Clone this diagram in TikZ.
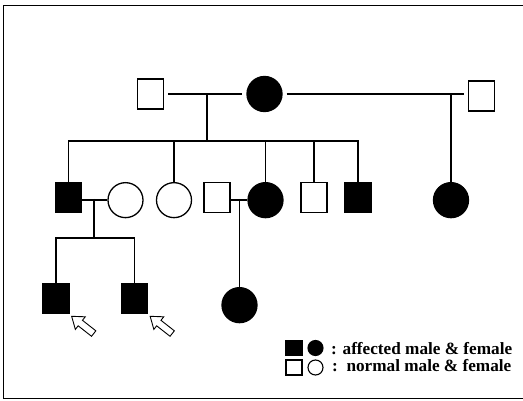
\documentclass[tikz,border=0pt]{standalone}
\usepackage{fontspec}
\setmainfont{Liberation Serif}
\usepackage{tikz}
\usetikzlibrary{calc,positioning}
\tikzset{
  msq/.style={draw,line width=1.3pt,minimum width=26pt,minimum height=30pt,inner sep=0pt},
  fci/.style={circle,draw,line width=1.3pt,minimum size=35pt,inner sep=0pt},
  aff/.style={fill=black},
  ln/.style={line width=1.3pt},
  lsq/.style={draw,line width=1.1pt,minimum width=16pt,minimum height=14pt,inner sep=0pt},
  lci/.style={circle,draw,line width=1.1pt,minimum size=15pt,inner sep=0pt},
  txt/.style={inner sep=0pt,font=\bfseries\fontsize{17.2}{19}\selectfont},
  ptr/.pic={\draw[line width=0.9pt,fill=white] (0,0)--(13.6,0.5)--(10.8,4)--(24.2,14.5)--(19.9,20)--(6.5,9.5)--(3.7,13.1)--cycle;}
}
\begin{document}
\begin{tikzpicture}[x=1pt,y=-1pt]
\useasboundingbox (0,0) rectangle (523,401);
\draw[line width=0.9pt] (530,5.5) -- (3.5,5.5) -- (3.5,398) -- (530,398);
% generation I
\node[msq] (i1) at (150.5,94) {};
\node[fci,aff] (i2) at (264.5,94) {};
\node[msq] (i3) at (481.5,96) {};
% generation II
\node[msq,aff,anchor=north] (ii1) at (68.5,182) {};
\node[fci,anchor=north] (ii2) at (125.5,182) {};
\node[fci,anchor=north] (ii3) at (174,182) {};
\node[msq,anchor=north] (ii4) at (217,182) {};
\node[fci,aff,anchor=north] (ii5) at (265.5,182) {};
\node[msq,anchor=north] (ii6) at (314,182) {};
\node[msq,aff,anchor=north] (ii7) at (358,182) {};
\node[fci,aff,anchor=north] (ii8) at (451,182) {};
% generation III
\node[msq,aff,anchor=north] (iii1) at (56,283) {};
\node[msq,aff,anchor=north] (iii2) at (134.5,283) {};
\node[fci,aff,anchor=north] (iii3) at (239.5,287) {};
% marriages and descent
\coordinate (m1) at (207,94);
\coordinate (s1) at (207,141);
\coordinate (m2) at (451,94);
\coordinate (m3) at (94,199);
\coordinate (s3) at (94,238);
\coordinate (m4) at (239.5,199);
\draw[ln,shorten <=4pt,shorten >=4pt] (i1) -- (i2);
\draw[ln,shorten <=4pt,shorten >=4pt] (i2) -- (i2 -| i3.west);
\draw[ln] (m1) -- (s1);
\draw[ln] (ii1.north) |- (s1) -| (ii7.north);
\foreach \n in {ii3,ii5,ii6}{\draw[ln] (\n.north) -- (\n.north |- s1);}
\draw[ln] (m2) -- (ii8.north);
\draw[ln] (ii2.west -| ii1.east) -- (ii2.west);
\draw[ln] (m3) -- (s3);
\draw[ln] (iii1.north) |- (s3) -| (iii2.north);
\draw[ln] (ii5.west -| ii4.east) -- (ii5.west);
\draw[ln] (m4) -- (iii3.north);
% probands
\pic at ([shift={(2,2)}]iii1.south east) {ptr};
\pic at ([shift={(2,2)}]iii2.south east) {ptr};
% legend
\node[lsq,aff] (k1) at (294,348) {};
\node[lci,aff] (k2) at (315.5,348) {};
\node[lsq,minimum height=15pt] (k3) at (294,367.5) {};
\node[lci] (k4) at (315.5,367.5) {};
\node[txt,anchor=base west] (t1) at (331,355) {: affected male \& female};
\node[txt,anchor=base west] (t2) at (332,372) {:\ \ normal male \& female};
\end{tikzpicture}
\end{document}
